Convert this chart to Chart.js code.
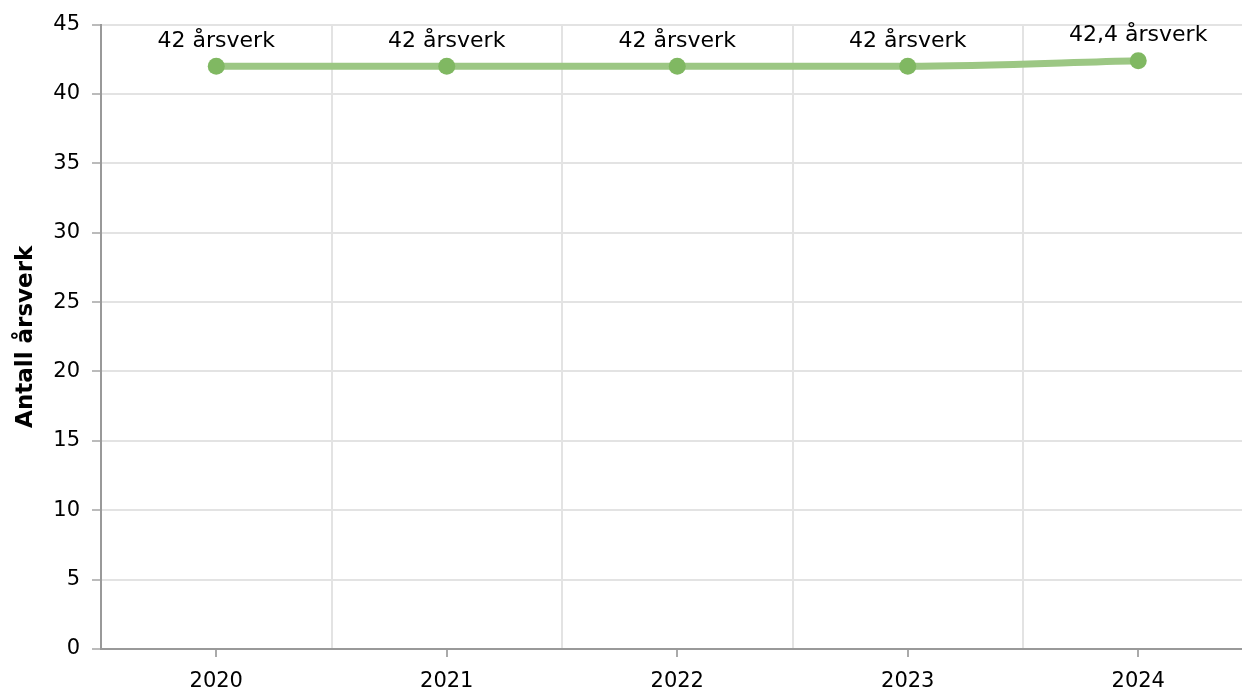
<!DOCTYPE html>
<html>
<head>
<meta charset="utf-8">
<script src="https://cdn.jsdelivr.net/npm/chart.js@4.4.1/dist/chart.umd.min.js"></script>
<style>
html,body{margin:0;padding:0;background:#fff;overflow:hidden;}
#c{position:absolute;left:0;top:0;}
</style>
</head>
<body>
<canvas id="c" width="1262" height="695"></canvas>
<script>
const categories = ['2020','2021','2022','2023','2024'];
const values = [42, 42, 42, 42, 42.4];
const valueLabels = ['42 årsverk','42 årsverk','42 årsverk','42 årsverk','42,4 årsverk'];
const yTicks = [0,5,10,15,20,25,30,35,40,45];
const yTitle = 'Antall årsverk';

const labelPlugin = {
  id: 'valLabels',
  afterDatasetsDraw(chart) {
    const ctx = chart.ctx;
    const meta = chart.getDatasetMeta(0);
    ctx.save();
    ctx.font = '22px "DejaVu Sans"';
    ctx.fillStyle = '#000';
    ctx.textAlign = 'center';
    ctx.textBaseline = 'middle';
    meta.data.forEach((pt, i) => {
      ctx.fillText(valueLabels[i], pt.x, pt.y - 25);
    });
    ctx.restore();
  }
};

new Chart(document.getElementById('c'), {
  type: 'line',
  data: {
    labels: categories,
    datasets: [{
      data: values,
      borderColor: '#9cc784',
      borderWidth: 7,
      backgroundColor: '#80b862',
      pointBackgroundColor: '#80b862',
      pointBorderWidth: 0,
      pointRadius: 8.5,
      cubicInterpolationMode: 'monotone',
      fill: false,
      clip: false
    }]
  },
  options: {
    responsive: false,
    animation: false,
    layout: { padding: { top: 16, right: 0, left: 0, bottom: 0 } },
    plugins: { legend: { display: false }, tooltip: { enabled: false } },
    scales: {
      x: {
        type: 'category',
        offset: true,
        grid: { offset: false, drawOnChartArea: false, drawTicks: true, tickLength: 8, color: '#aaa', lineWidth: 2 },
        border: { display: true, color: '#999', width: 2 },
        ticks: { font: { family: 'DejaVu Sans', size: 21 }, color: '#000', padding: 12, maxRotation: 0 },
        afterFit(s) { s.height = 46; }
      },
      x2: {
        type: 'category',
        position: 'bottom',
        offset: true,
        labels: categories,
        grid: { offset: true, drawOnChartArea: true, drawTicks: false, color: '#e3e3e3', lineWidth: 2 },
        border: { display: false },
        ticks: { display: false },
        afterFit(s) { s.height = 0; }
      },
      y: {
        min: 0, max: 45,
        afterBuildTicks(s) { s.ticks = yTicks.map(v => ({ value: v })); },
        grid: { color: '#e3e3e3', lineWidth: 2, tickLength: 9, drawTicks: true, tickColor: '#bbb' },
        border: { display: true, color: '#999', width: 2 },
        ticks: { font: { family: 'DejaVu Sans', size: 21 }, color: '#000', padding: 12 },
        title: { display: true, text: yTitle, font: { family: 'DejaVu Sans', weight: 'bold', size: 23 }, color: '#000', padding: { top: 12, bottom: 0 } },
        afterFit(s) { s.width = 101; }
      }
    }
  },
  plugins: [labelPlugin]
});
</script>
</body>
</html>
